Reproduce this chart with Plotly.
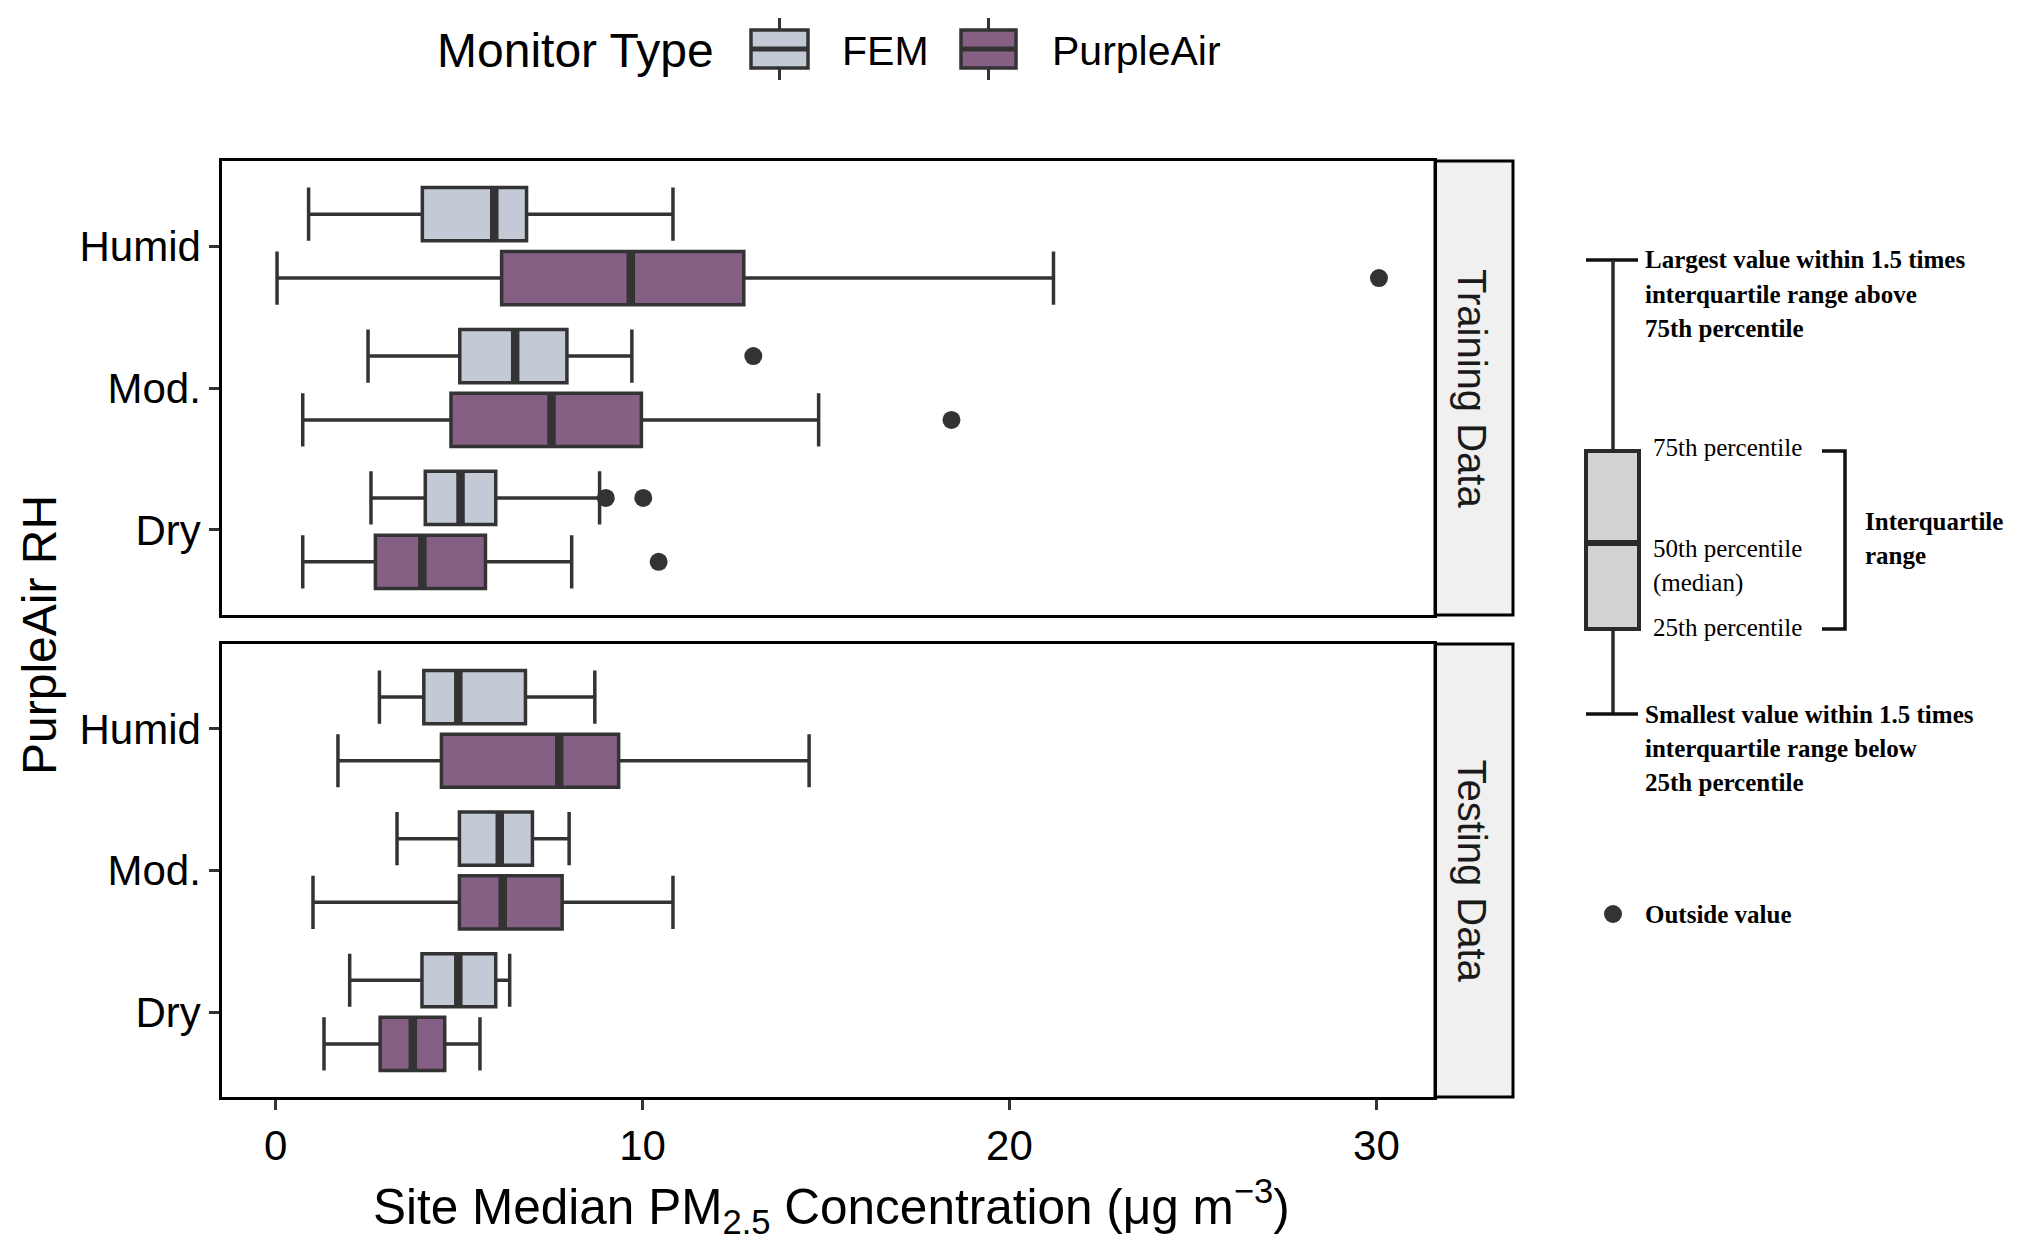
#!/usr/bin/env python3
"""Boxplots of site median PM2.5 by PurpleAir RH class, training vs testing data."""

import plotly.graph_objects as go

# ---- data -----------------------------------------------------------------
categories = ["Humid", "Mod.", "Dry"]
monitors = ["FEM", "PurpleAir"]
facets = ["Training Data", "Testing Data"]

# order of each list follows `categories`
train_fem_low = [0.90, 2.52, 2.60]
train_fem_q1 = [4.00, 5.02, 4.08]
train_fem_med = [5.96, 6.53, 5.04]
train_fem_q3 = [6.84, 7.94, 6.00]
train_fem_high = [10.83, 9.71, 8.83]

train_pa_low = [0.04, 0.74, 0.74]
train_pa_q1 = [6.16, 4.78, 2.72]
train_pa_med = [9.68, 7.52, 4.00]
train_pa_q3 = [12.76, 9.97, 5.72]
train_pa_high = [21.20, 14.80, 8.07]

test_fem_low = [2.83, 3.31, 2.02]
test_fem_q1 = [4.04, 5.01, 3.99]
test_fem_med = [4.98, 6.11, 4.98]
test_fem_q3 = [6.81, 7.00, 6.00]
test_fem_high = [8.70, 8.00, 6.38]

test_pa_low = [1.70, 1.02, 1.32]
test_pa_q1 = [4.52, 5.01, 2.85]
test_pa_med = [7.73, 6.19, 3.74]
test_pa_q3 = [9.35, 7.81, 4.61]
test_pa_high = [14.54, 10.83, 5.57]

# outside values: (category, value)
train_fem_out = [("Mod.", 13.02), ("Dry", 9.00), ("Dry", 10.02)]
train_pa_out = [("Humid", 30.07), ("Mod.", 18.42), ("Dry", 10.44)]
test_fem_out = []
test_pa_out = []

x_ticks = [0, 10, 20, 30]

# ---- styling -----------------------------------------------------------------
W, H = 2020, 1251
FILL = {"FEM": "#c3cad6", "PurpleAir": "#865f84"}
LINE = "#333333"
BOX_W = 0.375           # box width 0.75 shared by two monitors
OFFSET = {"FEM": 0.225, "PurpleAir": -0.225}   # position_dodge(0.9)
CAT_POS = {"Dry": 1, "Mod.": 2, "Humid": 3}
SANS = "Liberation Sans, Arial, sans-serif"
SERIF = "Liberation Serif, Times New Roman, serif"


def px(x):
    return x / W


def py(y):
    return 1 - y / H


panel_x = (px(222), px(1434))
panel_y = {"Training Data": (py(615), py(161)), "Testing Data": (py(1097), py(644))}
axis_ids = {"Training Data": ("x", "y"), "Testing Data": ("x2", "y2")}

stats = {
    ("Training Data", "FEM"): (train_fem_low, train_fem_q1, train_fem_med, train_fem_q3, train_fem_high, train_fem_out),
    ("Training Data", "PurpleAir"): (train_pa_low, train_pa_q1, train_pa_med, train_pa_q3, train_pa_high, train_pa_out),
    ("Testing Data", "FEM"): (test_fem_low, test_fem_q1, test_fem_med, test_fem_q3, test_fem_high, test_fem_out),
    ("Testing Data", "PurpleAir"): (test_pa_low, test_pa_q1, test_pa_med, test_pa_q3, test_pa_high, test_pa_out),
}

fig = go.Figure()

for facet in facets:
    xa, ya = axis_ids[facet]
    for mon in monitors:
        low, q1, med, q3, high, out = stats[(facet, mon)]
        pos = [CAT_POS[c] + OFFSET[mon] for c in categories]
        fig.add_trace(go.Box(
            orientation="h",
            y=pos,
            q1=q1, median=med, q3=q3,
            lowerfence=low, upperfence=high,
            width=BOX_W,
            whiskerwidth=1,
            fillcolor=FILL[mon],
            line=dict(color=LINE, width=3.5),
            name=mon,
            showlegend=False,
            xaxis=xa, yaxis=ya,
            hoverinfo="skip",
        ))
        # thicker median bar, as ggplot draws it
        mx, my = [], []
        for m, p in zip(med, pos):
            mx += [m, m, None]
            my += [p - BOX_W / 2, p + BOX_W / 2, None]
        fig.add_trace(go.Scatter(
            x=mx, y=my, mode="lines",
            line=dict(color=LINE, width=8.5),
            showlegend=False, hoverinfo="skip",
            xaxis=xa, yaxis=ya,
        ))
        if out:
            fig.add_trace(go.Scatter(
                x=[v for _, v in out],
                y=[CAT_POS[c] + OFFSET[mon] for c, _ in out],
                mode="markers",
                marker=dict(color=LINE, size=18),
                showlegend=False, hoverinfo="skip",
                xaxis=xa, yaxis=ya,
            ))

axis_common = dict(
    showline=True, mirror=True, linecolor="black", linewidth=2.5,
    showgrid=False, zeroline=False,
)
x_range = [-1.46, 31.57]
y_range = [0.4, 3.6]
tick_font = dict(size=42, color="black", family=SANS)

fig.update_layout(
    xaxis=dict(domain=panel_x, range=x_range, anchor="y", showticklabels=False,
               ticks="", **axis_common),
    yaxis=dict(domain=panel_y["Training Data"], range=y_range, anchor="x",
               tickvals=[CAT_POS[c] for c in categories], ticktext=categories,
               ticks="outside", ticklen=10, tickwidth=3, tickcolor=LINE,
               tickfont=tick_font, **axis_common),
    xaxis2=dict(domain=panel_x, range=x_range, anchor="y2",
                tickvals=x_ticks, ticks="outside", ticklen=10, tickwidth=3,
                tickcolor=LINE, tickfont=tick_font, **axis_common),
    yaxis2=dict(domain=panel_y["Testing Data"], range=y_range, anchor="x2",
                tickvals=[CAT_POS[c] for c in categories], ticktext=categories,
                ticks="outside", ticklen=10, tickwidth=3, tickcolor=LINE,
                tickfont=tick_font, **axis_common),
)

shapes = []
annotations = []


def label(text, x, y, size, family=SANS, xanchor="center", angle=0, color="black"):
    annotations.append(dict(text=text, xref="paper", yref="paper", x=px(x), y=py(y),
                            xanchor=xanchor, yanchor="middle", textangle=angle,
                            showarrow=False, font=dict(size=size, family=family, color=color)))


# facet strips on the right
for facet in facets:
    y0, y1 = panel_y[facet]
    shapes.append(dict(type="rect", xref="paper", yref="paper",
                       x0=px(1435), x1=px(1513), y0=y0, y1=y1,
                       fillcolor="#f0f0f0", line=dict(color="black", width=3),
                       layer="below"))
    label(facet, 1472, H * (1 - (y0 + y1) / 2), 40, angle=90, color="#1a1a1a")

# axis titles
label("PurpleAir RH", 39, 635, 48, angle=-90)
label("Site Median PM<sub>2.5</sub> Concentration (\u03bcg m<sup>\u22123</sup>)", 831, 1206, 49.5)

# legend (ggplot style, across the top)
label("Monitor Type", 435, 51, 48, xanchor="left")
for mon, x0, x1, tx in [("FEM", 751, 808, 840), ("PurpleAir", 961, 1016, 1050)]:
    xc = (x0 + x1) / 2
    shapes += [
        dict(type="line", xref="paper", yref="paper", x0=px(xc), x1=px(xc), y0=py(18), y1=py(80),
             line=dict(color=LINE, width=3)),
        dict(type="rect", xref="paper", yref="paper", x0=px(x0), x1=px(x1), y0=py(68), y1=py(30),
             fillcolor=FILL[mon], line=dict(color=LINE, width=3.5)),
        dict(type="line", xref="paper", yref="paper", x0=px(x0), x1=px(x1), y0=py(49), y1=py(49),
             line=dict(color=LINE, width=5)),
    ]
    label(mon, tx, 51, 41, xanchor="left")

# explanatory box-plot key on the right
KEY = "#2a2a2a"
bx0, bx1, bxc = px(1586), px(1639), px(1613)
shapes += [
    dict(type="line", xref="paper", yref="paper", x0=bx0, x1=px(1638), y0=py(260), y1=py(260),
         line=dict(color="#111111", width=3.5)),
    dict(type="line", xref="paper", yref="paper", x0=bxc, x1=bxc, y0=py(260), y1=py(451),
         line=dict(color=KEY, width=3.5)),
    dict(type="rect", xref="paper", yref="paper", x0=bx0, x1=bx1, y0=py(629), y1=py(451),
         fillcolor="#d3d3d3", line=dict(color=KEY, width=4)),
    dict(type="line", xref="paper", yref="paper", x0=bx0, x1=bx1, y0=py(543), y1=py(543),
         line=dict(color=KEY, width=6)),
    dict(type="line", xref="paper", yref="paper", x0=bxc, x1=bxc, y0=py(629), y1=py(714),
         line=dict(color=KEY, width=3.5)),
    dict(type="line", xref="paper", yref="paper", x0=bx0, x1=px(1638), y0=py(714), y1=py(714),
         line=dict(color="#111111", width=3.5)),
    dict(type="path", xref="paper", yref="paper",
         path=f"M {px(1822)},{py(451)} L {px(1845)},{py(451)} L {px(1845)},{py(629)} L {px(1822)},{py(629)}",
         line=dict(color="#111111", width=3.5)),
    dict(type="circle", xref="paper", yref="paper",
         x0=px(1604), x1=px(1622), y0=py(923), y1=py(905),
         fillcolor=LINE, line=dict(color=LINE, width=0)),
]

key_text = [
    ("<b>Largest value within 1.5 times</b>", 1643, 260),
    ("<b>interquartile range above</b>", 1643, 294),
    ("<b>75th percentile</b>", 1643, 328),
    ("75th percentile", 1651, 447),
    ("50th percentile", 1651, 548),
    ("(median)", 1651, 583),
    ("25th percentile", 1651, 627),
    ("<b>Interquartile</b>", 1863, 521),
    ("<b>range</b>", 1863, 555),
    ("<b>Smallest value within 1.5 times</b>", 1643, 714),
    ("<b>interquartile range below</b>", 1643, 748),
    ("<b>25th percentile</b>", 1643, 782),
    ("<b>Outside value</b>", 1643, 914),
]
for txt, x, y in key_text:
    label(txt, x, y, 25, family=SERIF, xanchor="left")

fig.update_layout(
    width=W, height=H,
    margin=dict(l=0, r=0, t=0, b=0),
    paper_bgcolor="white", plot_bgcolor="white",
    font=dict(family=SANS, color="black"),
    shapes=shapes,
    annotations=annotations,
    showlegend=False,
)

fig.write_html("out.html", config={"displayModeBar": False},
               post_script="document.body.style.margin = '0';")
